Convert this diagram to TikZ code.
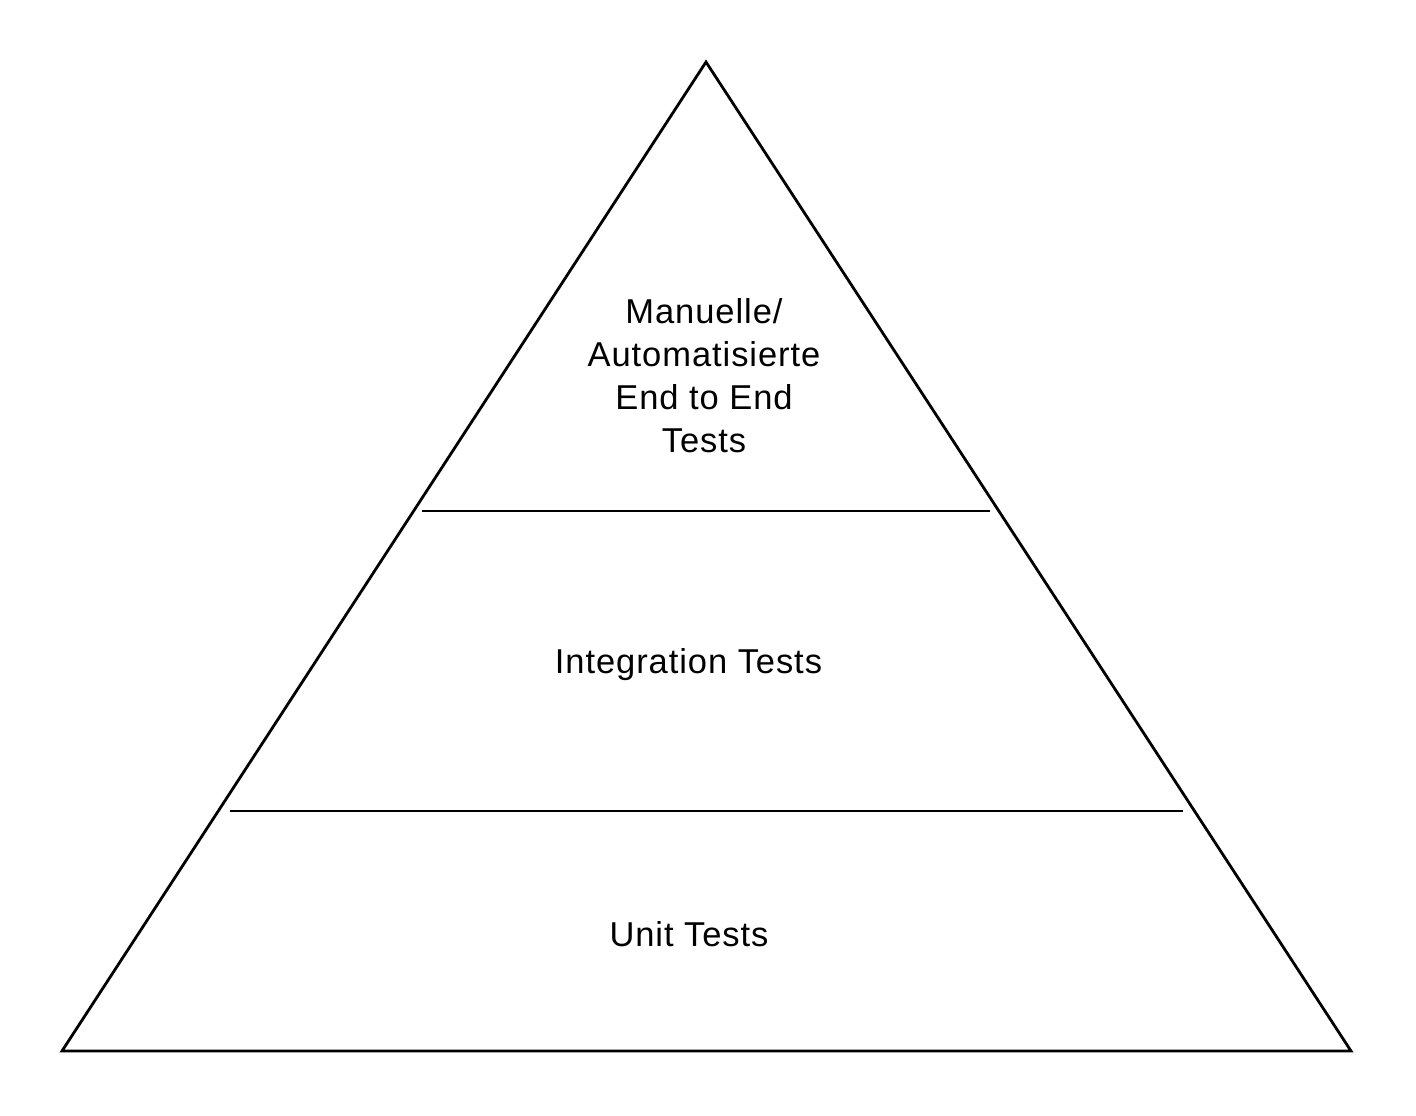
\documentclass[tikz,border=0pt]{standalone}
\usepackage{fontspec}
\setmainfont{Liberation Sans}[LetterSpace=2.7]
\begin{document}
\begin{tikzpicture}[x=1pt,y=-1pt,
  edge/.style={draw=black,line width=2.8pt,line join=miter},
  lbl/.style={font=\fontsize{34.5}{43}\selectfont,align=center,inner sep=0pt,text=black}]
\useasboundingbox[fill=white] (0,0) rectangle (1416,1116);
\coordinate (apex) at (706,62);
\coordinate (bl) at (62,1051);
\coordinate (br) at (1351,1051);
\draw[edge] (apex) -- (br) -- (bl) -- cycle;
\coordinate (l1a) at (422,511);
\coordinate (l1b) at (990,511);
\coordinate (l2a) at (230,811);
\coordinate (l2b) at (1183,811);
\draw[edge] (l1a) -- (l1b);
\draw[edge] (l2a) -- (l2b);
\node[lbl] (top) at (704,376) {Manuelle/\\Automatisierte\\End to End\\Tests};
\node[lbl] (mid) at (688.5,665) {Integration Tests};
\node[lbl] (bot) at (689,934) {Unit Tests};
\end{tikzpicture}
\end{document}
